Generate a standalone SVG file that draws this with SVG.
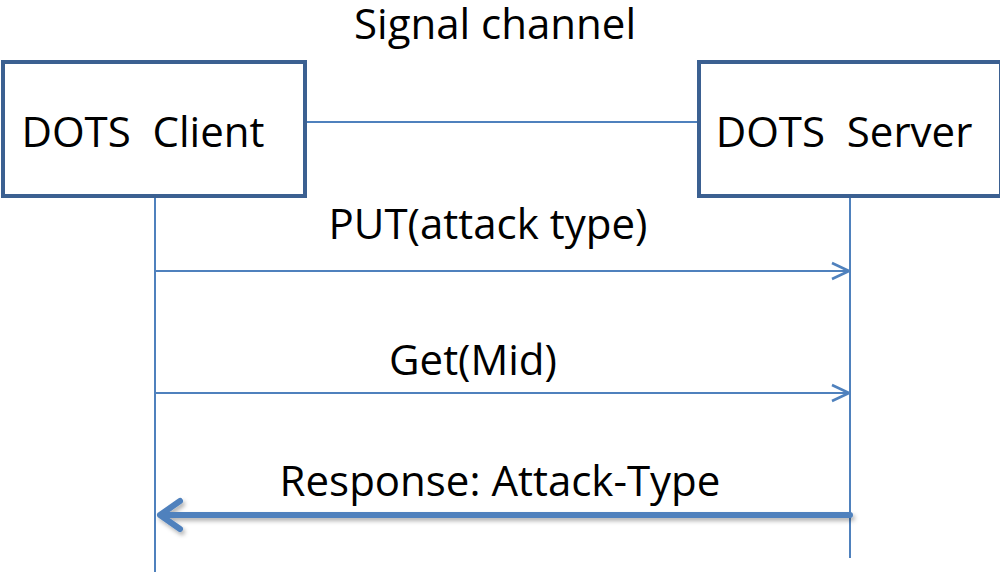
<svg xmlns="http://www.w3.org/2000/svg" width="1000" height="572" viewBox="0 0 1000 572">
<style>
.box{fill:#fff;stroke:#3B6091;stroke-width:4}
.line{stroke:#4F81BD;stroke-width:2;fill:none}
.t{font-family:"Open Sans","Liberation Sans",sans-serif;font-size:42px;fill:#000}
</style>
<defs>
<marker id="open" viewBox="0 0 20 20" refX="19" refY="10" markerWidth="20" markerHeight="20" markerUnits="userSpaceOnUse" orient="auto">
<path d="M2,2 L19,10 L2,18" fill="none" stroke="#4F81BD" stroke-width="2.5"/>
</marker>
<filter id="sh" x="-5%" y="-50%" width="110%" height="200%">
<feDropShadow dx="2" dy="3" stdDeviation="2" flood-color="#000" flood-opacity="0.3"/>
</filter>
</defs>
<text class="t" x="495" y="39" text-anchor="middle">Signal channel</text>
<g id="connectors">
<line class="line" x1="306" y1="122" x2="698" y2="122"/>
<line class="line" x1="155" y1="197" x2="155" y2="572"/>
<line class="line" x1="850" y1="197" x2="850" y2="558"/>
<line class="line" x1="155" y1="271" x2="849" y2="271" marker-end="url(#open)"/>
<line class="line" x1="155" y1="393" x2="849" y2="393" marker-end="url(#open)"/>
<g filter="url(#sh)">
<path d="M850,515 L160,515 M180,501 L160,515 L180,529" fill="none" stroke="#4F81BD" stroke-width="6" stroke-linecap="round" stroke-linejoin="round"/>
</g>
<text class="t" x="488" y="239" text-anchor="middle">PUT(attack type)</text>
<text class="t" x="473" y="375" text-anchor="middle">Get(Mid)</text>
<text class="t" x="500" y="496" text-anchor="middle">Response: Attack-Type</text>
</g>
<g id="client">
<rect class="box" x="3" y="62" width="302" height="134"/>
<text class="t" x="143" y="147" text-anchor="middle" xml:space="preserve">DOTS  Client</text>
</g>
<g id="server">
<rect class="box" x="699" y="62" width="302" height="134"/>
<text class="t" x="844" y="147" text-anchor="middle" xml:space="preserve">DOTS  Server</text>
</g>
</svg>
